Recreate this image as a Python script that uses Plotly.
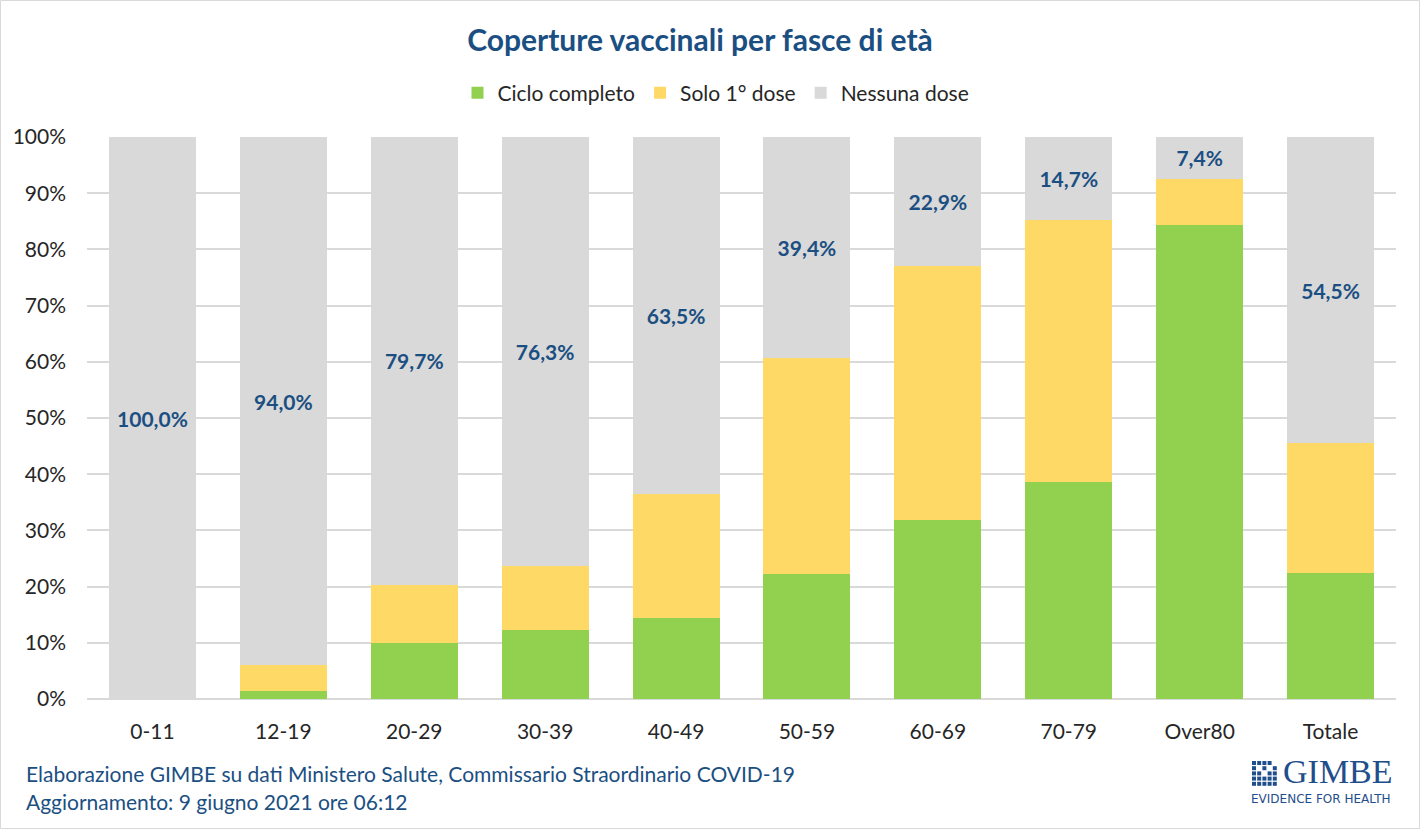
import plotly.graph_objects as go

categories = ["0-11", "12-19", "20-29", "30-39", "40-49", "50-59", "60-69", "70-79", "Over80", "Totale"]
ciclo_completo = [0.0, 1.5, 10.0, 12.2, 14.5, 22.2, 31.8, 38.6, 84.3, 22.4]
solo_prima_dose = [0.0, 4.5, 10.3, 11.5, 22.0, 38.4, 45.3, 46.7, 8.3, 23.1]
nessuna_dose = [100.0, 94.0, 79.7, 76.3, 63.5, 39.4, 22.9, 14.7, 7.4, 54.5]
y_ticks = [0, 10, 20, 30, 40, 50, 60, 70, 80, 90, 100]
y_tick_labels = [f"{v}%" for v in y_ticks]

W, H = 1420, 829
ML, MR, MT, MB = 87, 24, 137, 130
PW, PH = W - ML - MR, H - MT - MB

def px_x(px):
    return (px - ML) / PW

def px_y(py):
    return (H - MB - py) / PH

BLUE = "#1B4F82"
FONT = "Lato"

labels = [f"{v:.1f}".replace(".", ",") + "%" for v in nessuna_dose]

fig = go.Figure()
fig.add_trace(go.Bar(x=categories, y=ciclo_completo, name="Ciclo completo",
                     marker=dict(color="#92D050", line=dict(width=0))))
fig.add_trace(go.Bar(x=categories, y=solo_prima_dose, name="Solo 1° dose",
                     marker=dict(color="#FFD966", line=dict(width=0))))
fig.add_trace(go.Bar(x=categories, y=nessuna_dose, name="Nessuna dose",
                     marker=dict(color="#D9D9D9", line=dict(width=0)),
                     text=labels, textposition="inside", insidetextanchor="middle",
                     textangle=0, constraintext="none",
                     textfont=dict(family=FONT, size=21, color=BLUE, weight="bold")))

shapes = [dict(type="rect", xref="paper", yref="paper",
               x0=px_x(0.5), x1=px_x(W - 0.5), y0=px_y(H - 0.5), y1=px_y(0.5),
               line=dict(color="#D9D9D9", width=1), fillcolor="rgba(0,0,0,0)", layer="below")]

# GIMBE logo icon (grid of small squares)
gx0, gy0, cell = 1252, 761, 5.2
for r in range(5):
    for c in range(5):
        if (r, c) in [(1, 1), (2, 2), (1, 3), (0, 4)]:
            continue
        shapes.append(dict(type="rect", xref="paper", yref="paper",
                           x0=px_x(gx0 + c * cell), x1=px_x(gx0 + c * cell + cell - 1.2),
                           y0=px_y(gy0 + r * cell + cell - 1.2), y1=px_y(gy0 + r * cell),
                           line=dict(width=0), fillcolor="#1F4E8C"))

annotations = [
    dict(text="Elaborazione GIMBE su dati Ministero Salute, Commissario Straordinario COVID-19",
         x=px_x(24), y=px_y(773), xref="paper", yref="paper", xanchor="left", yanchor="middle",
         showarrow=False, font=dict(family=FONT, size=21, color=BLUE)),
    dict(text="Aggiornamento: 9 giugno 2021 ore 06:12",
         x=px_x(24), y=px_y(801), xref="paper", yref="paper", xanchor="left", yanchor="middle",
         showarrow=False, font=dict(family=FONT, size=21, color=BLUE)),
    dict(text="GIMBE", x=px_x(1282), y=px_y(791), xref="paper", yref="paper",
         xanchor="left", yanchor="bottom", showarrow=False, borderpad=0,
         font=dict(family="Liberation Serif", size=34, color="#1F4E8C")),
    dict(text="EVIDENCE FOR HEALTH", x=px_x(1321), y=px_y(791), xref="paper", yref="paper",
         xanchor="center", yanchor="top", showarrow=False, borderpad=0,
         font=dict(family="DejaVu Sans", size=12, color="#1F4E8C")),
]

fig.update_layout(
    width=W, height=H,
    margin=dict(l=ML, r=MR, t=MT, b=MB),
    barmode="stack", bargap=0.336,
    paper_bgcolor="white", plot_bgcolor="white",
    font=dict(family=FONT, size=21, color="#262626"),
    title=dict(text="<b>Coperture vaccinali per fasce di età</b>", x=700 / W, xref="container",
               xanchor="center", y=1 - 40 / H, yanchor="middle", yref="container",
               font=dict(family=FONT, size=30, color=BLUE)),
    legend=dict(orientation="h", x=px_x(716), xanchor="center", y=px_y(93), yanchor="middle",
                font=dict(family=FONT, size=21, color="#262626"), traceorder="normal",
                itemclick=False),
    xaxis=dict(showgrid=False, ticks="", showline=False, tickfont=dict(size=21, color="#262626"),
               ticklabelstandoff=18),
    yaxis=dict(range=[0, 100], tickmode="array", tickvals=y_ticks, ticktext=y_tick_labels,
               showgrid=True, gridcolor="#D9D9D9", gridwidth=1.5, zeroline=True,
               zerolinecolor="#D9D9D9", zerolinewidth=1.5, showline=False, ticks="",
               ticklabelstandoff=20, tickfont=dict(size=21, color="#262626")),
    shapes=shapes, annotations=annotations,
    showlegend=True,
)

fig.write_html("out.html", config={"displayModeBar": False},
               post_script="document.body.style.margin='0';document.body.style.padding='0';")
